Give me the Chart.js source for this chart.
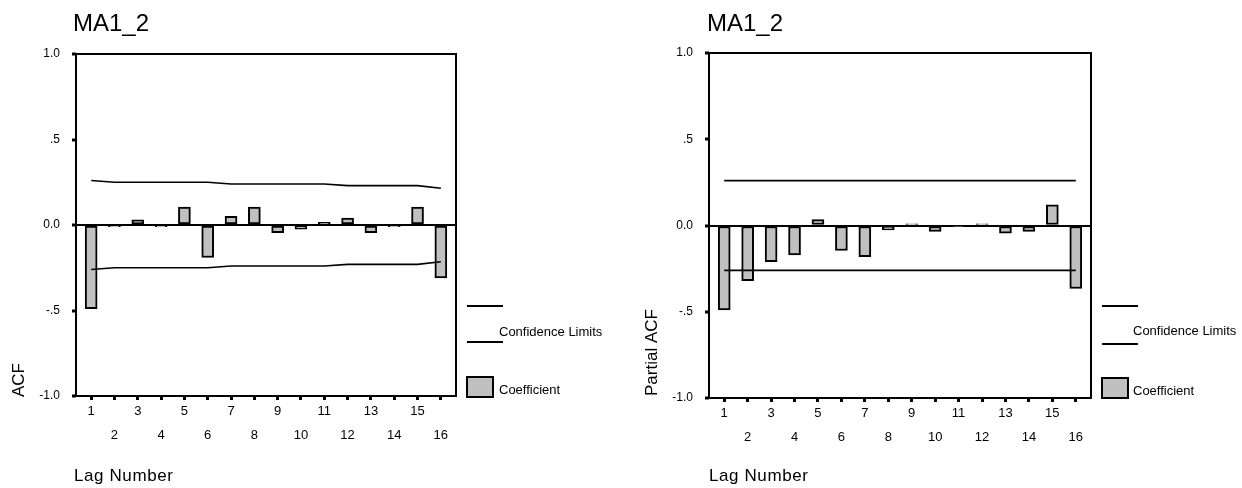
<!DOCTYPE html>
<html><head><meta charset="utf-8">
<script src="https://cdn.jsdelivr.net/npm/chart.js@4.4.1/dist/chart.umd.min.js"></script>
<style>
html,body{margin:0;padding:0;background:#fff;width:1242px;height:488px;overflow:hidden}
.box{position:absolute;top:0;height:488px}
</style></head><body>
<div class="box" style="left:0;width:620px"><canvas id="c1"></canvas></div>
<div class="box" style="left:620px;width:622px"><canvas id="c2"></canvas></div>
<script>
const lags = [1,2,3,4,5,6,7,8,9,10,11,12,13,14,15,16];
const xTickLabels = ['1','2','3','4','5','6','7','8','9','10','11','12','13','14','15','16'];
const acfValues = [-0.49,-0.01,0.03,-0.01,0.105,-0.19,0.05,0.105,-0.045,-0.025,0.015,0.04,-0.045,-0.01,0.105,-0.31];
const acfUpper = [0.26,0.25,0.25,0.25,0.25,0.25,0.24,0.24,0.24,0.24,0.24,0.23,0.23,0.23,0.23,0.215];
const acfLower = [-0.26,-0.25,-0.25,-0.25,-0.25,-0.25,-0.24,-0.24,-0.24,-0.24,-0.24,-0.23,-0.23,-0.23,-0.23,-0.215];
const pacfValues = [-0.49,-0.32,-0.21,-0.17,0.035,-0.145,-0.18,-0.025,0.01,-0.035,-0.003,0.01,-0.045,-0.035,0.12,-0.365];
const pacfUpper = [0.26,0.26,0.26,0.26,0.26,0.26,0.26,0.26,0.26,0.26,0.26,0.26,0.26,0.26,0.26,0.26];
const pacfLower = [-0.26,-0.26,-0.26,-0.26,-0.26,-0.26,-0.26,-0.26,-0.26,-0.26,-0.26,-0.26,-0.26,-0.26,-0.26,-0.26];
const yTicks = [-1,-0.5,0,0.5,1];
const yTickLabels = ['-1.0','-.5','0.0','.5','1.0'];
const seriesTitle = 'MA1_2';
const xTitle = 'Lag Number';
const legendLine = 'Confidence Limits';
const legendBar = 'Coefficient';

const F = "'Liberation Sans', Arial, sans-serif";

const decorPlugin = {
  id: 'decor',
  afterDraw(chart, args, o) {
    const ctx = chart.ctx, a = chart.chartArea;
    ctx.save();
    ctx.strokeStyle = '#000'; ctx.lineWidth = 2;
    ctx.strokeRect(a.left, a.top, a.right - a.left, a.bottom - a.top);
    ctx.fillStyle = '#000';
    ctx.textAlign = 'left'; ctx.textBaseline = 'alphabetic';
    ctx.font = '24px ' + F;
    ctx.fillText(o.title, o.tx, o.ty);
    ctx.font = '17px ' + F;
    ctx.letterSpacing = '0.6px';
    ctx.fillText(o.xTitle, o.xtx, o.xty);
    ctx.letterSpacing = '0px';
    ctx.save();
    ctx.font = '17px ' + F;
    ctx.translate(o.ytx, o.yty); ctx.rotate(-Math.PI / 2);
    ctx.fillText(o.yTitle, 0, 0);
    ctx.restore();
    // legend
    ctx.lineWidth = 2;
    ctx.beginPath();
    ctx.moveTo(o.lx1, o.ly1); ctx.lineTo(o.lx2, o.ly1);
    ctx.moveTo(o.lx1, o.ly2); ctx.lineTo(o.lx2, o.ly2);
    ctx.stroke();
    ctx.fillStyle = '#c0c0c0';
    ctx.fillRect(o.lx1, o.by, 26, 20);
    ctx.strokeRect(o.lx1, o.by, 26, 20);
    ctx.fillStyle = '#000';
    ctx.font = '13px ' + F;
    ctx.textBaseline = 'middle';
    ctx.fillText(o.legendLine, o.ltx, o.lty);
    ctx.fillText(o.legendBar, o.ltx, o.by + 13);
    ctx.restore();
  }
};

function build(id, vals, up, lo, L) {
  const pts = arr => lags.map((x, i) => ({x: x, y: arr[i]}));
  const lineDs = arr => ({type: 'line', data: pts(arr), borderColor: '#000', borderWidth: 1.6,
    pointRadius: 0, fill: false, tension: 0, order: 0});
  new Chart(document.getElementById(id), {
    type: 'bar',
    data: {datasets: [
      lineDs(up), lineDs(lo),
      {type: 'bar', data: pts(vals), backgroundColor: '#c0c0c0', borderColor: '#000',
       borderWidth: 2, borderSkipped: false, barThickness: 12, order: 1}
    ]},
    options: {
      responsive: true, maintainAspectRatio: false, animation: false,
      layout: {padding: {left: 0, top: L.top, right: L.right, bottom: 0}},
      plugins: {legend: {display: false}, tooltip: {enabled: false}, decor: L.decor},
      scales: {
        x: {type: 'linear', min: 0.35, max: 16.65, offset: false,
          afterBuildTicks: s => { s.ticks = lags.map(v => ({value: v})); },
          afterFit: s => { s.height = L.xh; },
          ticks: {autoSkip: false, maxRotation: 0, minRotation: 0, padding: 0, color: '#000',
            font: {family: F, size: 13, lineHeight: 1.8},
            callback: v => { const i = lags.indexOf(v); const t = xTickLabels[i]; return i % 2 === 0 ? [t, ''] : ['', t]; }},
          grid: {offset: false, drawOnChartArea: false, color: '#000', tickColor: '#000', tickLength: 4, tickWidth: 3},
          border: {display: false}},
        y: {min: -1, max: 1,
          afterBuildTicks: s => { s.ticks = yTicks.map(v => ({value: v})); },
          afterFit: s => { s.width = L.yw; },
          ticks: {padding: 12, color: '#000', font: {family: F, size: 12},
            callback: v => yTickLabels[yTicks.indexOf(v)]},
          grid: {color: c => (c.tick && c.tick.value === 0) ? '#000' : 'rgba(0,0,0,0)', lineWidth: 2,
            tickColor: '#000', tickLength: 4, tickWidth: 3},
          border: {display: false}}
      }
    },
    plugins: [decorPlugin]
  });
}

build('c1', acfValues, acfUpper, acfLower, {
  top: 54, right: 164, xh: 92, yw: 76,
  decor: {title: seriesTitle, tx: 73, ty: 31, xTitle: xTitle, xtx: 74, xty: 481,
    yTitle: 'ACF', ytx: 24, yty: 397,
    lx1: 467, lx2: 503, ly1: 306, ly2: 342, ltx: 499, lty: 332, by: 377,
    legendLine: legendLine, legendBar: legendBar}
});
build('c2', pacfValues, pacfUpper, pacfLower, {
  top: 53, right: 151, xh: 90, yw: 89,
  decor: {title: seriesTitle, tx: 87, ty: 31, xTitle: xTitle, xtx: 89, xty: 481,
    yTitle: 'Partial ACF', ytx: 37, yty: 396,
    lx1: 482, lx2: 518, ly1: 306, ly2: 344, ltx: 513, lty: 331, by: 378,
    legendLine: legendLine, legendBar: legendBar}
});
</script>
</body></html>
